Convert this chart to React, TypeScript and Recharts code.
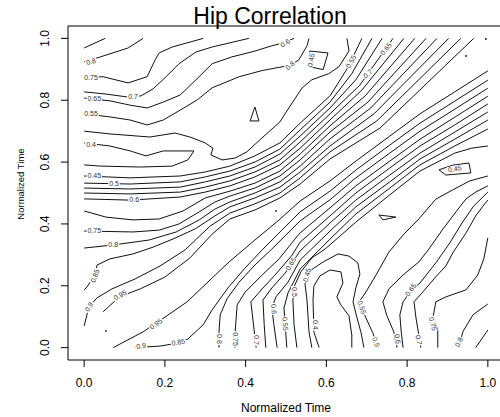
import { ReferenceArea, Scatter, ScatterChart, XAxis, YAxis } from "recharts";

type Pt = [number, number];

const FONT = "'Liberation Sans', Arial, Helvetica, sans-serif";
const INK = "#111";

// axis ticks
const TICKS = [0, 0.2, 0.4, 0.6, 0.8, 1];

// ---- contour traces (x = normalized time, y = normalized time) ----

// fan of levels in the top-left corner, all leaving through the top edge
const fan085: Pt[] = [[0, 0.969], [0.052, 1]];
const fan080: Pt[] = [[0, 0.925], [0.04, 0.94], [0.109, 0.969], [0.146, 1]];
const fan075: Pt[] = [[0, 0.873], [0.047, 0.876], [0.109, 0.856], [0.156, 0.876], [0.176, 0.931], [0.186, 0.953], [0.218, 0.972], [0.295, 1]];
const fan070: Pt[] = [[0, 0.827], [0.054, 0.82], [0.104, 0.811], [0.141, 0.814], [0.171, 0.837], [0.203, 0.876], [0.235, 0.918], [0.277, 0.956], [0.317, 0.972], [0.408, 1]];
const fan065: Pt[] = [[0, 0.807], [0.064, 0.798], [0.114, 0.784], [0.156, 0.775], [0.196, 0.794], [0.238, 0.817], [0.277, 0.866], [0.317, 0.918], [0.366, 0.94], [0.423, 0.959], [0.465, 0.976], [0.493, 0.985], [0.52, 1]];
const fan055: Pt[] = [[0, 0.756], [0.064, 0.746], [0.114, 0.736], [0.156, 0.72], [0.196, 0.736], [0.238, 0.768], [0.28, 0.801], [0.317, 0.84], [0.384, 0.876], [0.441, 0.896], [0.49, 0.908], [0.51, 0.912], [0.532, 0.931], [0.552, 0.976], [0.557, 1]];

// the 0.4 valley and the level wrapped round it, which then climbs the band
const valley040: Pt[] = [[0, 0.662], [0.064, 0.652], [0.114, 0.636], [0.153, 0.62], [0.196, 0.636], [0.272, 0.636], [0.257, 0.607], [0.218, 0.587], [0.139, 0.584], [0.04, 0.587], [0, 0.591]];
const wrap050: Pt[] = [[0, 0.7], [0.064, 0.691], [0.163, 0.681], [0.225, 0.694], [0.262, 0.681], [0.3, 0.662], [0.319, 0.645], [0.314, 0.623], [0.342, 0.607], [0.374, 0.613], [0.403, 0.633], [0.443, 0.681], [0.485, 0.73], [0.51, 0.781], [0.54, 0.84], [0.564, 0.866], [0.606, 0.886], [0.631, 0.908], [0.656, 0.959], [0.651, 1]];

// upper diagonal band, left edge to top edge
const upper045: Pt[] = [[0, 0.555], [0.114, 0.549], [0.238, 0.555], [0.3, 0.568], [0.361, 0.587], [0.423, 0.62], [0.485, 0.662], [0.535, 0.726], [0.609, 0.814], [0.653, 0.905], [0.688, 1]];
const upper050: Pt[] = [[0, 0.532], [0.114, 0.529], [0.238, 0.536], [0.3, 0.552], [0.361, 0.571], [0.423, 0.6], [0.485, 0.642], [0.535, 0.704], [0.609, 0.794], [0.663, 0.886], [0.713, 1]];
const upper053: Pt[] = [[0, 0.516], [0.114, 0.513], [0.238, 0.519], [0.3, 0.536], [0.361, 0.555], [0.423, 0.584], [0.485, 0.626], [0.535, 0.684], [0.609, 0.775], [0.673, 0.866], [0.738, 1]];
const upper055: Pt[] = [[0, 0.5], [0.114, 0.497], [0.238, 0.503], [0.3, 0.519], [0.361, 0.539], [0.423, 0.568], [0.485, 0.607], [0.535, 0.665], [0.609, 0.756], [0.683, 0.849], [0.765, 1]];
const upper060: Pt[] = [[0, 0.481], [0.114, 0.477], [0.238, 0.487], [0.3, 0.503], [0.361, 0.523], [0.423, 0.552], [0.485, 0.591], [0.535, 0.645], [0.609, 0.736], [0.688, 0.833], [0.792, 1]];
const upper070: Pt[] = [[0, 0.442], [0.054, 0.422], [0.121, 0.413], [0.186, 0.416], [0.245, 0.442], [0.3, 0.484], [0.361, 0.506], [0.423, 0.532], [0.485, 0.571], [0.535, 0.626], [0.609, 0.717], [0.696, 0.814], [0.819, 1]];
const upper075: Pt[] = [[0, 0.377], [0.121, 0.374], [0.186, 0.38], [0.235, 0.4], [0.285, 0.439], [0.324, 0.471], [0.361, 0.49], [0.423, 0.516], [0.485, 0.555], [0.535, 0.607], [0.609, 0.697], [0.703, 0.794], [0.847, 1]];
const upper080: Pt[] = [[0, 0.322], [0.072, 0.332], [0.161, 0.348], [0.228, 0.374], [0.285, 0.413], [0.324, 0.448], [0.361, 0.471], [0.423, 0.5], [0.485, 0.536], [0.535, 0.587], [0.609, 0.675], [0.71, 0.775], [0.874, 1]];
const upper085: Pt[] = [[0, 0.187], [0.007, 0.196], [0.027, 0.235], [0.032, 0.267], [0.064, 0.287], [0.121, 0.303], [0.171, 0.325], [0.225, 0.354], [0.275, 0.384], [0.324, 0.426], [0.361, 0.455], [0.423, 0.484], [0.485, 0.519], [0.535, 0.568], [0.609, 0.652], [0.718, 0.756], [0.903, 1]];
const upper090: Pt[] = [[0, 0.07], [0.012, 0.132], [0.032, 0.161], [0.069, 0.19], [0.126, 0.222], [0.188, 0.264], [0.25, 0.316], [0.312, 0.393], [0.361, 0.435], [0.423, 0.465], [0.485, 0.5], [0.535, 0.549], [0.609, 0.633], [0.725, 0.733], [0.933, 1]];
const upper095: Pt[] = [[0.047, 0.116], [0.087, 0.164], [0.139, 0.19], [0.2, 0.228], [0.262, 0.29], [0.317, 0.367], [0.361, 0.416], [0.423, 0.445], [0.485, 0.484], [0.535, 0.529], [0.609, 0.61], [0.733, 0.71], [0.965, 1]];

// lower diagonal band, bottom edge to right edge
const lower095: Pt[] = [[0.072, 0], [0.146, 0.051], [0.205, 0.103], [0.255, 0.148], [0.317, 0.225], [0.359, 0.277], [0.423, 0.348], [0.483, 0.413], [0.535, 0.474], [0.609, 0.539], [0.673, 0.603], [0.757, 0.684], [0.832, 0.756], [0.918, 0.827], [1, 0.895]];
const lower090: Pt[] = [[0.126, 0], [0.188, 0.005], [0.233, 0.015], [0.257, 0.028], [0.295, 0.074], [0.317, 0.122], [0.356, 0.193], [0.399, 0.258], [0.441, 0.316], [0.485, 0.374], [0.535, 0.439], [0.609, 0.506], [0.673, 0.574], [0.757, 0.655], [0.832, 0.726], [0.918, 0.797], [1, 0.865]];
const lower080: Pt[] = [[0.334, 0], [0.334, 0.051], [0.337, 0.106], [0.354, 0.158], [0.384, 0.212], [0.423, 0.267], [0.465, 0.319], [0.515, 0.384], [0.535, 0.41], [0.609, 0.478], [0.673, 0.549], [0.757, 0.629], [0.832, 0.7], [0.918, 0.771], [1, 0.839]];
const lower075: Pt[] = [[0.374, 0], [0.374, 0.051], [0.379, 0.138], [0.399, 0.18], [0.441, 0.235], [0.483, 0.287], [0.522, 0.351], [0.535, 0.371], [0.609, 0.452], [0.673, 0.523], [0.757, 0.603], [0.832, 0.674], [0.918, 0.745], [1, 0.813]];
const lower070: Pt[] = [[0.426, 0], [0.421, 0.057], [0.413, 0.148], [0.441, 0.19], [0.473, 0.235], [0.515, 0.299], [0.535, 0.341], [0.609, 0.426], [0.673, 0.5], [0.757, 0.581], [0.832, 0.652], [0.918, 0.72], [1, 0.788]];
const lower065: Pt[] = [[0.45, 0], [0.446, 0.074], [0.443, 0.154], [0.465, 0.193], [0.498, 0.241], [0.535, 0.313], [0.609, 0.403], [0.673, 0.477], [0.757, 0.558], [0.832, 0.629], [0.918, 0.697], [1, 0.762]];
const lower060: Pt[] = [[0.478, 0], [0.47, 0.074], [0.465, 0.128], [0.475, 0.164], [0.505, 0.212], [0.535, 0.283], [0.609, 0.377], [0.673, 0.455], [0.757, 0.536], [0.832, 0.61], [0.918, 0.674], [1, 0.736]];
const lower055: Pt[] = [[0.502, 0], [0.498, 0.074], [0.495, 0.128], [0.505, 0.177], [0.535, 0.254], [0.609, 0.351], [0.673, 0.432], [0.757, 0.516], [0.832, 0.591], [0.918, 0.652], [1, 0.707]];
const lower050: Pt[] = [[0.527, 0], [0.52, 0.074], [0.517, 0.154], [0.522, 0.203], [0.537, 0.245], [0.564, 0.29], [0.597, 0.319], [0.634, 0.361], [0.673, 0.406], [0.757, 0.494], [0.832, 0.571], [0.881, 0.604], [0.918, 0.629], [0.96, 0.645], [1, 0.652]];

// dips standing on the bottom edge
const dip045: Pt[] = [[0.564, 0], [0.557, 0.051], [0.552, 0.154], [0.547, 0.206], [0.562, 0.251], [0.592, 0.277], [0.629, 0.303], [0.656, 0.296], [0.678, 0.274], [0.683, 0.238], [0.673, 0.193], [0.666, 0.148], [0.676, 0.096], [0.686, 0.048], [0.693, 0]];
const dip040: Pt[] = [[0.582, 0], [0.569, 0.051], [0.567, 0.154], [0.569, 0.199], [0.584, 0.232], [0.609, 0.251], [0.636, 0.245], [0.641, 0.209], [0.626, 0.164], [0.636, 0.138], [0.656, 0.103], [0.663, 0.041], [0.663, 0]];

// bottom-right corner, bottom edge to right edge
const corner055: Pt[] = [[0.728, 0], [0.715, 0.048], [0.698, 0.096], [0.681, 0.148], [0.698, 0.18], [0.723, 0.235], [0.755, 0.309], [0.79, 0.364], [0.829, 0.416], [0.871, 0.48], [0.913, 0.51], [0.955, 0.539], [1, 0.555]];
const corner060: Pt[] = [[0.775, 0], [0.767, 0.051], [0.75, 0.103], [0.74, 0.148], [0.755, 0.19], [0.79, 0.235], [0.829, 0.277], [0.854, 0.319], [0.889, 0.384], [0.921, 0.439], [0.946, 0.481], [0.97, 0.503], [1, 0.523]];
const corner065: Pt[] = [[0.79, 0], [0.785, 0.057], [0.782, 0.106], [0.79, 0.148], [0.809, 0.183], [0.832, 0.209], [0.871, 0.274], [0.906, 0.339], [0.936, 0.403], [0.965, 0.458], [1, 0.503]];
const corner070: Pt[] = [[0.834, 0], [0.829, 0.041], [0.822, 0.096], [0.817, 0.148], [0.839, 0.18], [0.871, 0.229], [0.896, 0.264], [0.913, 0.306], [0.946, 0.371], [0.97, 0.426], [0.99, 0.461], [1, 0.477]];
const corner075: Pt[] = [[0.876, 0], [0.876, 0.057], [0.864, 0.096], [0.871, 0.148], [0.896, 0.164], [0.946, 0.187], [0.975, 0.235], [0.99, 0.287], [1, 0.355]];
const corner080: Pt[] = [[0.928, 0], [0.938, 0.051], [0.963, 0.106], [1, 0.141]];
const corner085: Pt[] = [[0.97, 0], [1, 0.057]];

// small closed rings
const ringTop045: Pt[] = [[0.559, 0.959], [0.604, 0.953], [0.592, 0.899], [0.559, 0.908], [0.559, 0.959]];
const ringMid040: Pt[] = [[0.411, 0.733], [0.423, 0.778], [0.433, 0.733], [0.411, 0.733]];
const ringLow040: Pt[] = [[0.73, 0.429], [0.772, 0.422], [0.74, 0.413], [0.73, 0.429]];
const ringRight045: Pt[] = [[0.879, 0.575], [0.913, 0.59], [0.953, 0.597], [0.958, 0.565], [0.896, 0.558], [0.879, 0.575]];

// single-cell specks
const specks: Pt[] = [[0.054, 0.054], [0.475, 0.442], [0.946, 0.943], [0.995, 0.998]];

// contour labels
const labelTexts = [
  "0.8", "0.75", "0.7", "0.65", "0.55", "0.4", "0.45", "0.5", "0.6", "0.75", "0.8", "0.85", "0.9", "0.95",
  "0.6", "0.8", "0.45", "0.55", "0.7", "0.65",
  "0.95", "0.9", "0.85", "0.65", "0.6", "0.55", "0.5", "0.45", "0.4", "0.8", "0.75", "0.7",
  "0.55", "0.5", "0.6", "0.65", "0.7", "0.75", "0.8", "0.45",
];
const labelSpots: Pt[] = [
  [0.017, 0.925], [0.017, 0.873], [0.121, 0.811], [0.025, 0.807], [0.017, 0.756], [0.017, 0.658], [0.025, 0.555],
  [0.074, 0.532], [0.124, 0.479], [0.025, 0.377], [0.072, 0.332], [0.027, 0.232], [0.012, 0.132], [0.089, 0.17],
  [0.498, 0.985], [0.51, 0.912], [0.562, 0.93], [0.661, 0.925], [0.703, 0.886], [0.748, 0.966],
  [0.178, 0.077], [0.141, 0.005], [0.233, 0.018], [0.512, 0.271], [0.47, 0.125], [0.498, 0.077], [0.52, 0.18],
  [0.552, 0.235], [0.572, 0.074], [0.334, 0.028], [0.374, 0.028], [0.426, 0.025],
  [0.688, 0.13], [0.723, 0.018], [0.777, 0.028], [0.809, 0.187], [0.829, 0.025], [0.864, 0.077], [0.928, 0.018],
  [0.918, 0.578],
];
const labelAngles = [
  -15, 0, 0, 0, 0, 0, 0, 0, 0, 0, 0, -70, -60, -30,
  -35, -40, -80, -60, -40, -50,
  -35, -10, -10, -60, 85, 85, 90, -75, 90, 90, 90, 90,
  70, 70, 80, -55, 80, 75, -65, -10,
];

const contourLines: Pt[][] = [
  fan085, fan080, fan075, fan070, fan065, fan055,
  valley040, wrap050,
  upper045, upper050, upper053, upper055, upper060, upper070, upper075, upper080, upper085, upper090, upper095,
  lower095, lower090, lower080, lower075, lower070, lower065, lower060, lower055, lower050,
  dip045, dip040,
  corner055, corner060, corner065, corner070, corner075, corner080, corner085,
  ringTop045, ringMid040, ringLow040, ringRight045,
];

const toPoints = (pts: Pt[]) => pts.map(([x, y]) => ({ x, y }));

const labelRows = labelTexts.map((text, i) => ({
  x: labelSpots[i][0],
  y: labelSpots[i][1],
  text,
  angle: labelAngles[i],
}));

function NoMark() {
  return <g />;
}

function Speck(props: any) {
  const { cx, cy } = props;
  if (cx == null || cy == null) return <g />;
  return <circle cx={cx} cy={cy} r={0.9} fill={INK} />;
}

function ContourLabel(props: any) {
  const { cx, cy, payload } = props;
  if (cx == null || cy == null || !payload) return <g />;
  const w = payload.text.length * 3.6 + 1;
  return (
    <g transform={`translate(${cx},${cy}) rotate(${payload.angle})`}>
      <rect x={-w / 2} y={-3} width={w} height={6} fill="#fff" />
      <text textAnchor="middle" dy="0.35em" fontSize={7} fill="#333" fontFamily={FONT}>
        {payload.text}
      </text>
    </g>
  );
}

function YTick(props: any) {
  const { x, y, payload } = props;
  const bx = x - 10;
  return (
    <text
      x={bx}
      y={y}
      transform={`rotate(-90 ${bx} ${y})`}
      textAnchor="middle"
      fontSize={12}
      fill="#000"
      fontFamily={FONT}
    >
      {Number(payload.value).toFixed(1)}
    </text>
  );
}

export default function App() {
  return (
    <div
      style={{
        position: "absolute",
        left: 0,
        top: 0,
        width: 500,
        height: 417,
        overflow: "hidden",
        background: "#fff",
        fontFamily: FONT,
      }}
    >
      <ScatterChart width={510} height={417} margin={{ top: 26, right: 6, bottom: 27, left: 28 }}>
        <XAxis
          type="number"
          dataKey="x"
          domain={[-0.04, 1.04]}
          ticks={TICKS}
          tickFormatter={(v: number) => v.toFixed(1)}
          axisLine={false}
          tickSize={7}
          tickMargin={11}
          tickLine={{ stroke: "#000" }}
          tick={{ fill: "#000", fontSize: 12, fontFamily: FONT }}
          height={30}
          allowDataOverflow
        />
        <YAxis
          type="number"
          dataKey="y"
          domain={[-0.04, 1.04]}
          ticks={TICKS}
          axisLine={false}
          tickSize={7}
          tickLine={{ stroke: "#000" }}
          tick={(p: any) => <YTick {...p} />}
          width={40}
          allowDataOverflow
        />
        <ReferenceArea
          x1={-0.04}
          x2={1.04}
          y1={-0.04}
          y2={1.04}
          fill="none"
          fillOpacity={0}
          stroke="#000"
          strokeWidth={1}
          ifOverflow="visible"
        />
        {contourLines.map((pts, i) => (
          <Scatter
            key={`c${i}`}
            data={toPoints(pts)}
            fill="none"
            line={{ stroke: INK, strokeWidth: 1 }}
            lineType="joint"
            shape={NoMark}
            isAnimationActive={false}
          />
        ))}
        <Scatter data={toPoints(specks)} shape={Speck} isAnimationActive={false} />
        <Scatter data={labelRows} shape={ContourLabel} isAnimationActive={false} />
      </ScatterChart>
      <svg
        width={500}
        height={417}
        style={{ position: "absolute", left: 0, top: 0, pointerEvents: "none" }}
      >
        <text x={270} y={24} textAnchor="middle" fontSize={23} fill="#000" fontFamily={FONT}>
          Hip Correlation
        </text>
        <text x={286} y={412} textAnchor="middle" fontSize={12} fill="#000" fontFamily={FONT}>
          Normalized Time
        </text>
        <text
          x={24}
          y={184}
          transform="rotate(-90 24 184)"
          textAnchor="middle"
          fontSize={9.5}
          fill="#000"
          fontFamily={FONT}
        >
          Normalized Time
        </text>
      </svg>
    </div>
  );
}
